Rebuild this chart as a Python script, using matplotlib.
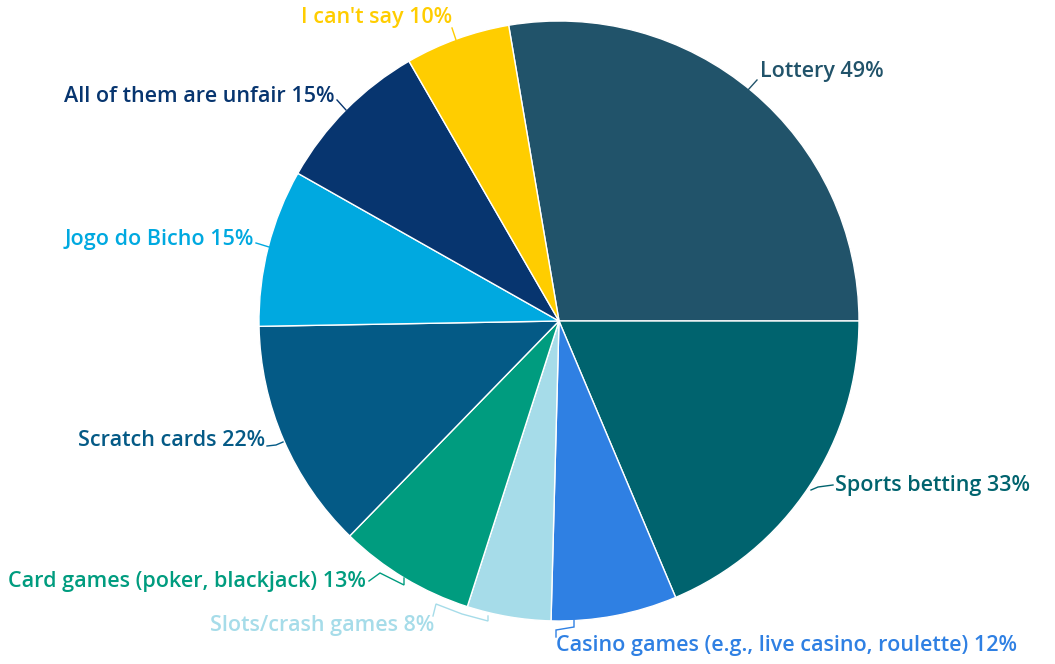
import matplotlib.pyplot as plt
import numpy as np

# data
labels = ['Lottery', 'Sports betting', 'Casino games (e.g., live casino, roulette)',
          'Slots/crash games', 'Card games (poker, blackjack)', 'Scratch cards',
          'Jogo do Bicho', 'All of them are unfair', "I can't say"]
values = [49, 33, 12, 8, 13, 22, 15, 15, 10]
colors = ['#21536a', '#00636e', '#2f80e3', '#a6dce9', '#009c7f',
          '#045a86', '#00a9e0', '#07356f', '#ffcd00']

W, H = 1055, 664
cx, cy, R = 559, 321, 300

plt.rcParams['font.family'] = ['Open Sans', 'DejaVu Sans']

fig = plt.figure(figsize=(W / 100, H / 100), dpi=100)
ax = fig.add_axes([0, 0, 1, 1])

def p(x, y):
    # image pixel coords -> axes data coords
    return x, H - y

start = 360.0 * values[0] / sum(values)
ax.pie(values, colors=colors, center=p(cx, cy), radius=R, startangle=start,
       counterclock=False, frame=True,
       wedgeprops=dict(edgecolor='white', linewidth=1.0))
ax.set_xlim(0, W)
ax.set_ylim(0, H)
ax.set_aspect('equal')
ax.axis('off')

# label layout: text anchor (image px), alignment, connector polyline (image px)
layout = [
    ((760, 72), 'left', [(748, 90), (757, 80)]),
    ((835, 486), 'left', [(811, 490), (818, 487), (833, 485)]),
    ((556, 645), 'left', [(574, 620), (574, 627), (556, 630), (556, 637)]),
    ((434, 625), 'right', [(488, 616), (488, 621), (462, 614), (436, 604), (433, 616)]),
    ((366, 582), 'right', [(404, 578), (404, 585), (380, 573), (369, 581)]),
    ((265, 441), 'right', [(283, 442), (276, 445), (267, 446)]),
    ((254, 240), 'right', [(269, 247), (256, 243)]),
    ((335, 96), 'right', [(346, 110), (337, 100)]),
    ((452, 18), 'right', [(456, 40), (452, 28)]),
]

for lab, v, c, (pos, ha, line) in zip(labels, values, colors, layout):
    xs = [q[0] for q in line]
    ys = [H - q[1] for q in line]
    ax.plot(xs, ys, color=c, linewidth=1.0, solid_joinstyle='miter')
    ax.text(*p(*pos), '%s %d%%' % (lab, v), color=c, ha=ha, va='center',
            fontsize=15.5, fontweight='semibold')

plt.savefig('out.png', dpi=100)
